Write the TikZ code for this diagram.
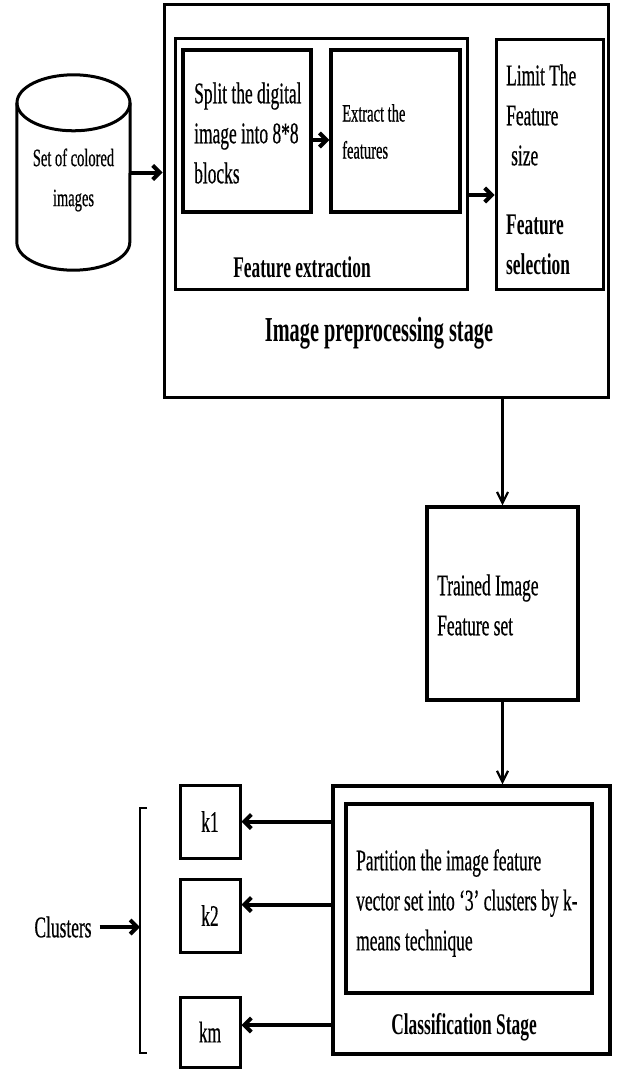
\documentclass[tikz,border=0pt]{standalone}
\usepackage{fontspec}
\setmainfont{Liberation Serif}[FakeStretch=0.58, UprightFeatures={FakeBold=0.5}]
\usetikzlibrary{arrows.meta}
\begin{document}
\begin{tikzpicture}[x=1pt,y=-1pt,
  box/.style={draw, line width=3pt, inner sep=0pt, rectangle},
  txt/.style={inner sep=0pt, align=left, font=\fontsize{30}{40}\selectfont},
  btxt/.style={inner sep=0pt, align=left, font=\fontsize{30}{40}\selectfont\bfseries},
  thickarrow/.style={line width=4pt, -{Straight Barb[length=7pt,width=14pt]}},
  thinarrow/.style={line width=2.2pt, -{Straight Barb[length=11pt,width=11pt]}}
]
\useasboundingbox (0,0) rectangle (616,1070);

% boxes
\node[box, minimum width=444pt, minimum height=392pt] (outer) at (386,201) {};
\node[box, minimum width=292pt, minimum height=250pt] (fe) at (321,164) {};
\node[box, line width=3.4pt, minimum width=128pt, minimum height=162pt] (split) at (247,131) {};
\node[box, line width=3.4pt, minimum width=129pt, minimum height=162pt] (extract) at (395.5,131) {};
\node[box, minimum width=107pt, minimum height=249pt] (fs) at (549.5,164.5) {};
\node[box, line width=3.2pt, minimum width=151pt, minimum height=193pt] (trained) at (502.5,603.5) {};
\node[box, line width=3.4pt, minimum width=277pt, minimum height=268pt] (class) at (471.5,920) {};
\node[box, line width=3.4pt, minimum width=246pt, minimum height=189pt] (part) at (469,898.5) {};
\node[box, minimum width=60pt, minimum height=73pt, font=\fontsize{30}{40}\selectfont] (k1) at (210,821.5) {k1};
\node[box, minimum width=60pt, minimum height=73pt, font=\fontsize{30}{40}\selectfont] (k2) at (210,915.5) {k2};
\node[box, minimum width=60pt, minimum height=70pt, font=\fontsize{30}{40}\selectfont] (km) at (210,1032) {km};

% cylinder
\node[minimum width=113pt, minimum height=195pt, inner sep=0pt] (cyl) at (73.5,172.5) {};
\draw[line width=3pt] ([yshift=-28pt]cyl.north west) -- ([yshift=28pt]cyl.south west)
  arc[start angle=180, end angle=360, x radius=56.5pt, y radius=28pt]
  -- ([yshift=-28pt]cyl.north east);
\draw[line width=3pt] ([yshift=-28pt]cyl.north) ellipse[x radius=56.5pt, y radius=28pt];
\node[inner sep=0pt, align=center, font=\fontsize{25}{40}\selectfont] (cyltxt) at (73.5,180) {Set of colored\\images};

% texts
\node[txt, anchor=west] (splittxt) at (194,133) {Split the digital\\image into 8*8\\blocks};
\node[txt, anchor=west, font=\fontsize{25}{37}\selectfont] (extracttxt) at (342,131.5) {Extract the\\features};
\node[txt, anchor=west] (fstxt) at (506,115) {Limit The\\Feature\\\hspace*{5pt}size};
\node[btxt, anchor=west] (fslabel) at (506,245) {Feature\\selection};
\node[btxt, anchor=center] (felabel) at (302,267) {Feature extraction};
\node[inner sep=0pt, font=\fontsize{35}{40}\selectfont\bfseries] (outerlabel) at (379,333) {Image preprocessing stage};
\node[txt, anchor=west] (trainedtxt) at (437,605) {Trained Image\\Feature set};
\node[txt, anchor=west] (parttxt) at (356,903) {Partition the image feature\\vector set into ‘3’ clusters by k-\\means technique};
\node[btxt, anchor=center] (classlabel) at (464,1027) {Classification Stage};
\node[txt, anchor=center] (clusters) at (63,927) {Clusters};

% bracket
\draw[line width=2.4pt] (147,808) -- (140,808) -- (140,1053) -- (147,1053);
\coordinate (brk) at (140,929);

% connectors
\draw[thickarrow] (cyl.east) -- (cyl.east -| outer.west);
\draw[thickarrow] ([yshift=-9pt]split.east) -- ([yshift=-9pt]split.east -| extract.west);
\draw[thickarrow] ([yshift=-31pt]fe.east) -- ([yshift=-31pt]fe.east -| fs.west);
\draw[thinarrow] (outer.south -| trained.north) -- (trained.north);
\draw[thinarrow] (trained.south) -- (trained.south |- class.north);
\draw[thickarrow] (class.west |- k1.east) -- (k1.east);
\draw[thickarrow] ([yshift=11pt]class.west |- k2.east) -- ([yshift=11pt]k2.east);
\draw[thickarrow] ([yshift=7pt]class.west |- km.east) -- ([yshift=7pt]km.east);
\draw[thickarrow] (clusters.east) ++(8pt,0) coordinate (cle) (cle) -- (cle -| brk);
\end{tikzpicture}
\end{document}
